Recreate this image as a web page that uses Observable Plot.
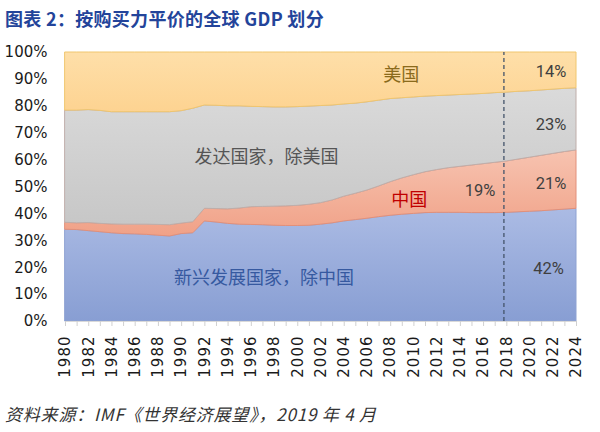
<!DOCTYPE html>
<html><head><meta charset="utf-8">
<script src="https://cdn.jsdelivr.net/npm/d3@7"></script>
<script src="https://cdn.jsdelivr.net/npm/@observablehq/plot@0.6"></script>
<style>
body{margin:0;background:#fff;width:600px;height:432px;overflow:hidden;}
#title{height:40px;box-sizing:border-box;padding:8px 0 0 5px;font:bold 18px "Noto Sans CJK SC";color:#23449a;line-height:21px;white-space:nowrap;letter-spacing:0.3px;}
#chart svg{display:block;overflow:visible;}
#caption{padding:11px 0 0 5px;font:italic 17px "Noto Sans CJK SC";color:#333;line-height:21px;white-space:nowrap;letter-spacing:0.8px;}
</style></head><body>
<div id="title">图表 2：按购买力平价的全球 GDP 划分</div>
<div id="chart"></div>
<div id="caption">资料来源：IMF《世界经济展望》，2019 年 4 月</div>
<script>
const years = [1980,1981,1982,1983,1984,1985,1986,1987,1988,1989,1990,1991,1992,1993,1994,1995,1996,1997,1998,1999,
  2000,2001,2002,2003,2004,2005,2006,2007,2008,2009,2010,2011,2012,2013,2014,2015,2016,2017,2018,2019,2020,2021,2022,2023,2024];
const labelYears = [1980,1982,1984,1986,1988,1990,1992,1994,1996,1998,2000,2002,2004,2006,2008,2010,2012,2014,2016,2018,2020,2022,2024];
const yTicks = [0,10,20,30,40,50,60,70,80,90,100];
const seriesKeys = ["新兴发展国家，除中国","中国","发达国家，除美国","美国"];

// shares of world GDP (PPP), %
const emExChina = [34.1,34.0,33.6,33.2,32.8,32.5,32.4,32.2,31.9,31.6,32.5,32.8,37.2,36.8,36.3,36.0,35.9,35.8,35.6,35.5,
  35.5,35.6,36.0,36.5,37.2,37.7,38.2,38.8,39.3,39.7,40.0,40.3,40.4,40.4,40.4,40.3,40.3,40.3,40.4,40.6,40.8,41.0,41.3,41.6,41.9];
const china = [2.6,2.5,3.0,3.1,3.3,3.5,3.6,3.8,4.0,4.2,3.9,4.1,4.7,5.0,5.4,6.0,6.6,6.8,7.1,7.3,
  7.5,7.8,8.0,8.5,9.2,9.8,10.5,11.4,12.5,13.5,14.4,15.2,15.9,16.6,17.1,17.7,18.2,18.7,19.1,19.6,20.1,20.6,21.0,21.4,21.7];
const advExUS = [41.7,41.9,42.0,42.0,41.7,41.8,41.8,41.8,41.9,42.0,41.8,42.2,38.4,38.4,38.3,38.0,37.3,37.1,36.9,36.8,
  36.7,36.5,36.1,35.3,34.3,33.5,32.8,31.9,30.9,29.8,28.9,28.1,27.5,27.0,26.7,26.4,26.1,25.9,25.6,25.2,24.7,24.3,23.9,23.5,23.1];
const us = [21.6,21.6,21.4,21.7,22.2,22.2,22.2,22.2,22.2,22.2,21.8,20.9,19.7,19.8,20.0,20.0,20.2,20.3,20.4,20.4,
  20.3,20.1,19.9,19.7,19.3,19.0,18.5,17.9,17.3,17.0,16.7,16.4,16.2,16.0,15.8,15.6,15.4,15.1,14.9,14.6,14.4,14.1,13.8,13.5,13.3];
const dashYear = 2017.75;

// annotations (text, year, value)
const annText = ["美国","发达国家，除美国","中国","新兴发展国家，除中国","19%","14%","23%","21%","42%"];
const annYear = [2008.9,1997.3,2009.6,1997.1,2015.7,2021.8,2021.8,2021.8,2021.6];
const annValue = [91.4,60.9,45.0,15.9,48.7,92.7,73.1,51.4,19.6];

const allValues = [emExChina, china, advExUS, us];
const rows = [];
seriesKeys.forEach((s, i) => years.forEach((y, j) => rows.push({year: y, series: s, value: allValues[i][j]})));

const gradId = {"新兴发展国家，除中国":"gEm","中国":"gCn","发达国家，除美国":"gAdv","美国":"gUs"};
const strokeOf = {"新兴发展国家，除中国":"#8ea2d2","中国":"#e2907a","发达国家，除美国":"#bfaeaa","美国":"#f0c66e"};
const grads = {gEm:["#abbbe4","#889ed3"], gCn:["#f7c3b0","#f0a187"], gAdv:["#dadada","#c7c7c7"], gUs:["#fedfa9","#fdd391"]};

const ann = annText.map((t, i) => ({text: t, x: annYear[i], y: annValue[i]}));
const annColor = t => t === "美国" ? "#8a6a1c" : t === "中国" ? "#c00000" : t.startsWith("新兴") ? "#3659a0" : t.startsWith("发达") ? "#555555" : "#3f3f3f";
const isPct = t => /%$/.test(t);

const plot = Plot.plot({
  width: 600, height: 352,
  marginLeft: 65, marginRight: 24, marginTop: 12, marginBottom: 71,
  x: {domain: [1980, 2024]},
  y: {domain: [0, 100]},
  color: {type: "identity"},
  style: {fontFamily: "DejaVu Sans", fontSize: "15px", color: "#222", background: "#fff"},
  marks: [
    Plot.areaY(rows, {x: "year", y: "value", z: "series", order: seriesKeys,
      fill: d => `url(#${gradId[d.series]})`, stroke: d => strokeOf[d.series], strokeWidth: 1, curve: "linear"}),
    Plot.ruleY([0], {stroke: "#d9d9d9"}),
    Plot.ruleX([dashYear], {y1: 0, y2: 100, stroke: "#44546a", strokeWidth: 1.3, strokeDasharray: "4,3"}),
    Plot.axisY({ticks: yTicks, tickSize: 0, tickPadding: 18, tickFormat: d => d + "%", fontSize: 15, fill: "#1a1a1a"}),
    Plot.axisX({ticks: years, tickSize: 5, stroke: "#d0d0d0", tickFormat: () => "", label: null}),
    Plot.axisX({ticks: labelYears, tickSize: 0, tickPadding: 14, tickRotate: -90, tickFormat: d => String(d), label: null, fontSize: 15, fill: "#1a1a1a"}),
    Plot.text(ann.filter(d => !isPct(d.text)), {x: "x", y: "y", text: "text", fill: d => annColor(d.text),
      fontSize: 18, fontFamily: "Noto Sans CJK SC"}),
    Plot.text(ann.filter(d => isPct(d.text)), {x: "x", y: "y", text: "text", fill: d => annColor(d.text),
      fontSize: 16.5, fontFamily: "Roboto"})
  ]
});

// gradient definitions
const ns = "http://www.w3.org/2000/svg";
const defs = document.createElementNS(ns, "defs");
for (const [id, [c1, c2]] of Object.entries(grads)) {
  const g = document.createElementNS(ns, "linearGradient");
  g.setAttribute("id", id); g.setAttribute("x1", "0"); g.setAttribute("y1", "0"); g.setAttribute("x2", "0"); g.setAttribute("y2", "1");
  [[0, c1], [1, c2]].forEach(([o, c]) => {
    const s = document.createElementNS(ns, "stop");
    s.setAttribute("offset", o); s.setAttribute("stop-color", c); g.appendChild(s);
  });
  defs.appendChild(g);
}
plot.insertBefore(defs, plot.firstChild);
plot.querySelectorAll("g[aria-label='x-axis tick label'] text").forEach(t => t.setAttribute("letter-spacing", "1"));
document.getElementById("chart").appendChild(plot);
</script>
</body></html>
